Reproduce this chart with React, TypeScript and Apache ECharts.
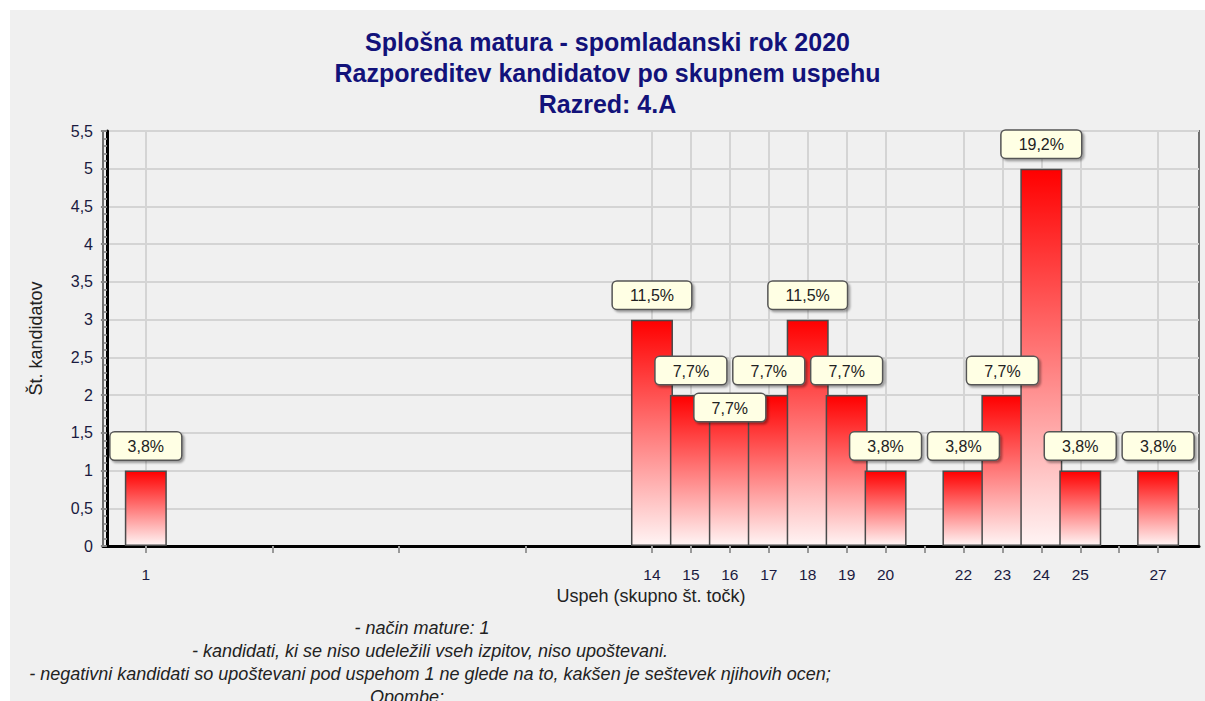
import React, { useEffect, useRef } from "react";
import * as echarts from "echarts";

const titleLines = [
  "Splošna matura - spomladanski rok 2020",
  "Razporeditev kandidatov po skupnem uspehu",
  "Razred: 4.A",
];
const xValues = [1, 14, 15, 16, 17, 18, 19, 20, 22, 23, 24, 25, 27];
const counts = [1, 3, 2, 2, 2, 3, 2, 1, 1, 2, 5, 1, 1];
const pctLabels = ["3,8%", "11,5%", "7,7%", "7,7%", "7,7%", "11,5%", "7,7%", "3,8%", "3,8%", "7,7%", "19,2%", "3,8%", "3,8%"];
const xTickValues = [1, 4.25, 7.5, 10.75, 14, 15, 16, 17, 18, 19, 20, 21, 22, 23, 24, 25, 26, 27];
const footnotes = [
  "- način mature: 1",
  "- kandidati, ki se niso udeležili vseh izpitov, niso upoštevani.",
  "- negativni kandidati so upoštevani pod uspehom 1 ne glede na to, kakšen je seštevek njihovih ocen;",
  "Opombe:",
];

export default function App() {
  const ref = useRef<HTMLDivElement>(null);
  useEffect(() => {
    if (!ref.current) return;
    const chart = echarts.init(ref.current, null, { renderer: "svg" });
    const font = "Arial, 'Liberation Sans', sans-serif";
    const axisColor = "#1a1a40";
    const barData = xValues.map((x, i) => {
      const item: any = { value: [x, counts[i]] };
      if (x === 16) item.label = { offset: [0, 37] };
      return item;
    });
    chart.setOption({
      animation: false,
      backgroundColor: "#f0f0f0",
      title: {
        text: titleLines.join("\n"),
        left: "center",
        top: 11,
        textStyle: {
          fontFamily: font,
          fontSize: 25,
          fontWeight: "bold",
          color: "#12127a",
          lineHeight: 31,
        },
      },
      grid: {
        left: 93,
        right: 6,
        top: 121,
        bottom: 155,
        show: true,
        backgroundColor: "#f0f0f0",
        borderColor: "#707070",
        borderWidth: 2,
      },
      xAxis: {
        type: "value",
        min: -0.1,
        max: 28.05,
        name: "Uspeh (skupno št. točk)",
        nameLocation: "middle",
        nameGap: 40,
        nameTextStyle: { fontFamily: font, fontSize: 18, color: "#222" },
        axisLine: { show: true, onZero: false, lineStyle: { color: "#000", width: 3 } },
        axisTick: {
          show: true,
          customValues: xTickValues,
          length: 7,
          lineStyle: { color: "#999", width: 2 },
        },
        axisLabel: {
          customValues: xValues,
          margin: 20,
          fontFamily: font,
          fontSize: 15.5,
          color: axisColor,
        },
        splitLine: { show: false },
      },
      yAxis: {
        type: "value",
        min: 0,
        max: 5.5,
        interval: 0.5,
        name: "Št. kandidatov",
        nameLocation: "middle",
        nameRotate: 90,
        nameGap: 58,
        nameTextStyle: { fontFamily: font, fontSize: 18, color: "#222" },
        axisLine: { show: true, lineStyle: { color: "#000", width: 3 } },
        axisTick: { show: true, length: 6, lineStyle: { color: "#888", width: 2 } },
        minorTick: { show: true, splitNumber: 5, length: 3, lineStyle: { color: "#999", width: 2 } },
        axisLabel: {
          fontFamily: font,
          fontSize: 16,
          color: axisColor,
          margin: 10,
          formatter: (v: number) => String(v).replace(".", ","),
        },
        splitLine: { show: true, lineStyle: { color: "#d4d4d4", width: 2 } },
      },
      series: [
        {
          type: "line",
          data: [],
          z: 1,
          silent: true,
          markLine: {
            z: 0,
            silent: true,
            symbol: "none",
            label: { show: false },
            lineStyle: { color: "#d4d4d4", width: 2, type: "solid" },
            data: xValues.map((x) => ({ xAxis: x })),
          },
        },
        {
          type: "bar",
          z: 10,
          barWidth: 42,
          data: barData,
          itemStyle: {
            color: new echarts.graphic.LinearGradient(0, 0, 0, 1, [
              { offset: 0, color: "#ff0000" },
              { offset: 1, color: "#fff4f4" },
            ]),
            borderColor: "#4a4a4a",
            borderWidth: 1.5,
          },
          label: {
            show: true,
            position: "top",
            distance: 11,
            formatter: (p: any) => pctLabels[p.dataIndex],
            fontFamily: font,
            fontSize: 16,
            color: "#222",
            backgroundColor: "#ffffe4",
            borderColor: "#555",
            borderWidth: 1.5,
            borderRadius: 4,
            padding: [6, 17, 5, 17],
            shadowColor: "rgba(0,0,0,0.35)",
            shadowBlur: 2,
            shadowOffsetX: 2,
            shadowOffsetY: 2,
          },
        },
      ],
      graphic: footnotes.map((t, i) => ({
        type: "text",
        x: [412, 420, 420, 397][i],
        y: 618 + i * 23,
        style: {
          text: t,
          fontFamily: "'Liberation Sans Narrow', Arial, sans-serif",
          fontStyle: "italic",
          fontSize: 18,
          fill: "#222",
          align: "center",
          verticalAlign: "middle",
        },
      })),
    });
    return () => chart.dispose();
  }, []);
  return (
    <div
      ref={ref}
      style={{ position: "absolute", left: 10, top: 10, width: 1195, height: 691 }}
    />
  );
}
